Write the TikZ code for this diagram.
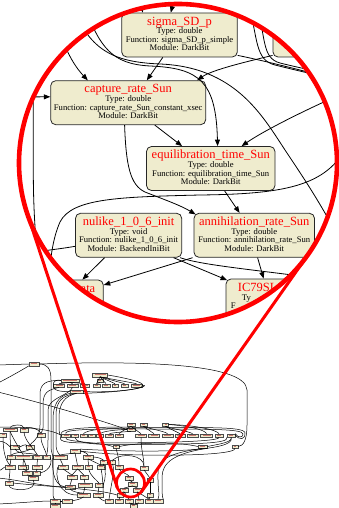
\documentclass[tikz,border=0pt]{standalone}
\usepackage{fontspec}
\setmainfont{Liberation Serif}
\usetikzlibrary{arrows.meta,calc}
\definecolor{gbeige}{RGB}{239,236,206}
\definecolor{minired}{RGB}{205,120,110}
\tikzset{
  gvb/.style={draw=black!85, line width=0.8pt, fill=gbeige, rounded corners=5pt, minimum height=44pt, inner sep=0pt},
  hdr/.style={text=red, font=\fontsize{12.5}{13}\selectfont, inner sep=0pt, anchor=base},
  bdy/.style={text=black, font=\fontsize{8.6}{9}\selectfont, inner sep=0pt, anchor=base},
  edg/.style={line width=0.8pt, black},
  arr/.style={edg, -{Triangle[length=6.5pt,width=5pt]}},
  mini/.style={draw=black!70, line width=0.35pt, fill=gbeige, minimum height=3.4pt, inner sep=0pt,
    path picture={\fill[minired] ([xshift=2pt,yshift=-0.9pt]path picture bounding box.north west) rectangle ([xshift=-2pt,yshift=-1.3pt]path picture bounding box.north east);}},
  ov/.style={line width=0.5pt, black},
  zoomred/.style={red, line cap=round},
}
\newcommand{\gvbox}[8]{%
  \node[gvb, minimum width=#4pt] (#1) at ({#2+#4/2},{#3+22}) {};
  \node[hdr] (#1h) at ({#2+#4/2},{#3+12.3}) {#5};
  \node[bdy] (#1t) at ({#2+#4/2},{#3+21}) {#6};
  \node[bdy] (#1f) at ({#2+#4/2},{#3+29.5}) {#7};
  \node[bdy] (#1m) at ({#2+#4/2},{#3+38}) {#8};
}
\begin{document}
\begin{tikzpicture}[x=1pt,y=-1pt]
\useasboundingbox (0,0) rectangle (339,508);

% ---------------- overview graph ----------------
\foreach \n/\x/\y/\w in {A/34/364/10,
  c1a/70/380.5/18, c1b/100/375/15, c1c/100/380.5/6,
  r1/59/385.5/11, r2/72.5/385.5/11, r3/85/385.5/9, r4/96.5/385.5/7, r5/106/385.5/8, r6/115/385.5/6, r7/124.5/385.5/7, r8/136.5/385.5/11,
  c1d/76.5/391.5/13,
  u1/131/424.5/8, u2/143.5/424.5/7, u3/165.5/424.5/6, u4/131/429.5/8,
  s1/66/435.5/9, s2/75/435.5/7, s3/83.5/435.5/7, s4/91.5/435.5/7, s5/100/435.5/7, s6/109.5/435.5/8, s7/119/435.5/8,
  s8/141/435.5/11, s9/154/435.5/11, s10/167.5/435.5/11, s11/180/435.5/10, s12/192.5/435.5/11, s13/206.5/435.5/12, s14/219/435.5/8, s15/231/435.5/8,
  w1/116/446.5/6, w2/202.5/446.5/9, w3/235/446.5/6,
  L1/10/429.5/14, L2/24/430/8, L3/41/435/8, L4/3/435/7, L5/11/457/8, L6/23.5/457/17, L7/37.5/457/9, L8/46.5/457/7,
  L9/10/467/10, L10/23/467/10, L11/37/467/10, L12/27/473/10, L13/36.5/473/7, L14/33/478/10, L15/9/483/8, L16/15/447/9, L17/30/447/8,
  M1/75/451/10, M2/60/457/14, M3/88/457/10, M4/63/467/10, M5/77.5/467/11, M6/88.5/467/7, M7/101/467/8, M8/72/477/10,
  M9/84/477/8, M10/70/487/10, M11/85/485/14, M12/99/485/8, M13/83.5/495/13, M14/98/495/10, M15/103.5/462/7, M16/112.5/462/5,
  N1/119/467/8, N2/144/468/8, N3/150/480/6, N4/129/478/8, N5/132.5/484/9, N6/124/490/8, N7/137.5/490/9, N8/150/495/6, N9/120/495/6,
  B1/109/501/8, B2/119/501/8, B3/129/501/8, B4/139/501/8, B5/149/501/8, B6/158/501/10, B7/133.5/506/7,
  D1/55/501/10, D2/67/501/10, D3/55/506/10}
  \node[mini, minimum width=\w pt] (o\n) at (\x,\y) {};

\coordinate (e0) at (-2,365);
\coordinate (e1) at (-2,383);
\coordinate (e2) at (-2,392);
\coordinate (e3) at (-2,427);
\coordinate (e4) at (-2,441);
\coordinate (e5) at (-2,471);
\coordinate (e6) at (-2,478);
\coordinate (e7) at (-2,504);

\draw[ov] (e0) -- (oA.west);
\draw[ov] (oA.east) .. controls (130,361) and (246,362) .. (247,390) -- (247,425) .. controls (247,441) and (243,446) .. (ow3.east);
\draw[ov] (ow3.south) .. controls (236,457) and (120,457) .. (oM1.east);
\draw[ov] (os15.south) .. controls (238,452) and (150,453) .. (oM1.north east);
\draw[ov] (oA.south west) .. controls (22,370) and (8,378) .. (e1);
\draw[ov] (oA.east) .. controls (47,364) and (51,368) .. (51,380) -- (51,447) .. controls (51,452) and (53,455) .. (oM2.west);
\draw[ov] (e2) .. controls (50,405) and (100,420) .. (ou4.west);
\draw[ov] (e3) .. controls (20,427) and (50,428) .. (os1.west);
% cluster 1
\foreach \t in {r1,r2,r3} \draw[ov] (oc1a.south) -- (o\t.north);
\foreach \t in {r4,r5,r6,r7,r8} \draw[ov] (oc1b.south) -- (o\t.north);
\draw[ov] (oc1c.south) -- (or4.north);
\draw[ov] (or1.west) .. controls (52,390) and (60,392) .. (oc1d.west);
\draw[ov] (or8.east) .. controls (146,389) and (110,393) .. (oc1d.east);
\draw[ov] (or1.west) .. controls (52,381) and (58,379) .. (oc1a.west);
\draw[ov] (or8.east) .. controls (146,382) and (120,377) .. (oc1b.east);
\draw[ov] (or8.east) .. controls (148,384) and (148,391) .. (oc1d.south east);
\draw[ov] (or1.south) .. controls (48,390) and (43,392) .. (43,405) -- (43,428) .. controls (43,431) and (41,432) .. (oL3.north);
\draw[ov] (oc1a.west) .. controls (45,380) and (40,384) .. (40,395) -- (40,425) .. controls (40,440) and (30,443) .. (oL17.north);
\draw[ov] (oc1d.south) .. controls (62,395) and (56,402) .. (56,415) -- (56,445) .. controls (56,450) and (58,453) .. (oM2.north);
\draw[ov] (oc1d.south) .. controls (65,396) and (59,403) .. (59,418) -- (59,430) .. controls (59,433) and (60,435) .. (os1.west);
\draw[ov] (or2.south) .. controls (70,395) and (48,398) .. (48,410) -- (48,440) .. controls (48,450) and (47,454) .. (oL8.north);
\draw[ov] (oc1d.south west) .. controls (58,396) and (53,405) .. (53,420) -- (53,495) .. controls (53,498) and (54,499) .. (oD1.north);
% ring
\draw[ov] (os1.north west) .. controls (60,426) and (120,427) .. (150,427.5) .. controls (200,428) and (245,426) .. (245,433) .. controls (245,440) and (240,440) .. (os15.east);
\draw[ov] (os1.north) .. controls (62,428) and (120,429) .. (150,429) .. controls (210,429) and (243,429) .. (243,434) .. controls (243,438) and (238,438) .. (os15.north east);
\draw[ov] (os1.south) .. controls (62,442) and (100,442) .. (ow1.west);
\draw[ov] (ow1.east) .. controls (140,442) and (180,442) .. (ow2.west);
\draw[ov] (os15.south) .. controls (233,442) and (220,444) .. (ow2.east);
\draw[ov] (os2.south) .. controls (75,445) and (110,445) .. (140,444.5) .. controls (190,444) and (230,444) .. (os15.south west);
\draw[ov] (os1.west) .. controls (58,441) and (62,443) .. (90,443) .. controls (150,443) and (220,442) .. (os14.south);
\draw[ov] (ou1.south) .. controls (128,428) and (120,432) .. (os7.north);
\draw[ov] (ou1.south) -- (os8.north);
\draw[ov] (ou2.south) -- (os9.north);
\draw[ov] (ou2.south) .. controls (150,429) and (164,431) .. (os10.north);
\draw[ov] (ou3.south) -- (os11.north);
\draw[ov] (ou3.south) .. controls (172,429) and (188,431) .. (os12.north);
\draw[ov] (ou3.east) .. controls (190,426) and (205,430) .. (os13.north);
\draw[ov] (ou3.east) .. controls (195,425) and (217,430) .. (os14.north);
\draw[ov] (ou4.south) .. controls (120,432) and (111,433) .. (os6.north);
\draw[ov] (ou4.west) .. controls (110,430) and (102,432) .. (os5.north);
\draw[ov] (os3.north) .. controls (86,430) and (110,427) .. (ou4.west);
% left cluster
\draw[ov] (oL1.south) .. controls (10,440) and (11,450) .. (oL5.north);
\draw[ov] (oL1.south) .. controls (14,440) and (20,450) .. (oL6.north);
\draw[ov] (oL2.south) .. controls (24,440) and (35,450) .. (oL7.north);
\draw[ov] (oL3.south) .. controls (41,445) and (46,450) .. (oL8.north);
\draw[ov] (oL4.south) .. controls (3,450) and (5,460) .. (oL9.north);
\draw[ov] (oL5.south) -- (oL9.north);
\draw[ov] (oL6.south) -- (oL10.north);
\draw[ov] (oL7.south) -- (oL11.north);
\draw[ov] (oL6.south) .. controls (25,463) and (27,467) .. (oL12.north);
\draw[ov] (oL10.south) -- (oL12.north);
\draw[ov] (oL11.south) -- (oL13.north);
\draw[ov] (oL12.south) -- (oL14.north);
\draw[ov] (oL9.south) .. controls (10,474) and (9,478) .. (oL15.north);
\draw[ov] (oL16.south) .. controls (18,455) and (30,452) .. (oL7.north);
\draw[ov] (oL17.south) .. controls (28,452) and (15,452) .. (oL5.north);
\draw[ov] (oL8.east) .. controls (52,460) and (52,470) .. (oL13.east);
\draw[ov] (oL15.south) .. controls (8,492) and (40,492) .. (oL14.south);
\draw[ov] (e4) .. controls (5,441) and (8,445) .. (oL16.west);
\draw[ov] (e5) .. controls (2,470) and (4,467) .. (oL9.west);
\draw[ov] (oL2.north) .. controls (24,424) and (12,424) .. (oL1.north);
\draw[ov] (oL3.north) .. controls (38,428) and (28,426) .. (oL2.north);
\draw[ov] (oL16.east) .. controls (25,444) and (28,444) .. (oL17.west);
% middle cluster
\draw[ov] (oM1.south) .. controls (70,454) and (62,454) .. (oM2.north);
\draw[ov] (oM1.south) -- (oM5.north);
\draw[ov] (oM1.east) .. controls (85,452) and (88,454) .. (oM3.north);
\draw[ov] (oM2.south) -- (oM4.north);
\draw[ov] (oM3.south) -- (oM6.north);
\draw[ov] (oM3.south) -- (oM7.north);
\draw[ov] (oM4.south) -- (oM8.north);
\draw[ov] (oM5.south) -- (oM8.north);
\draw[ov] (oM5.south) -- (oM9.north);
\draw[ov] (oM8.south) -- (oM10.north);
\draw[ov] (oM9.south) -- (oM11.north);
\draw[ov] (oM6.south) .. controls (90,476) and (97,480) .. (oM12.north);
\draw[ov] (oM10.south) .. controls (72,492) and (80,493) .. (oM13.north);
\draw[ov] (oM11.south) -- (oM13.north);
\draw[ov] (oM12.south) -- (oM14.north);
\draw[ov] (oM7.south) .. controls (103,478) and (103,488) .. (oM14.north east);
\draw[ov] (oM2.west) .. controls (52,465) and (52,485) .. (oM10.west);
\draw[ov] (oM4.west) .. controls (55,475) and (58,495) .. (oM13.west);
\draw[ov] (oM15.south) .. controls (106,470) and (106,478) .. (oM12.east);
\draw[ov] (oM3.east) .. controls (98,457) and (102,459) .. (oM15.north);
\draw[ov] (oM15.east) -- (oM16.west);
% near small circle
\draw[ov] (ow1.south) .. controls (118,455) and (119,460) .. (oN1.north);
\draw[ov] (oN1.south) .. controls (120,472) and (128,474) .. (oN4.north);
\draw[ov] (oN4.south) -- (oN5.north);
\draw[ov] (oN5.south) -- (oN6.north);
\draw[ov] (oN5.south) -- (oN7.north);
\draw[ov] (oN6.south) -- (oN9.north);
\draw[ov] (oN7.south) -- (oB4.north);
\draw[ov] (oN9.south) -- (oB2.north);
\draw[ov] (oN6.south) -- (oB3.north);
\draw[ov] (oN8.south) -- (oB5.north);
\draw[ov] (oN3.south) -- (oN8.north);
\draw[ov] (oN2.south) -- (oN3.north);
\draw[ov] (oN7.south) -- (oB5.north);
\draw[ov] (oB3.south) -- (oB7.north);
\draw[ov] (oB4.south) -- (oB7.north);
\draw[ov] (ow2.south) .. controls (155,455) and (158,465) .. (158,480) .. controls (158,490) and (160,495) .. (oB6.north);
\draw[ov] (ow2.south east) .. controls (162,455) and (162,470) .. (162,480) .. controls (162,492) and (162,496) .. (oB6.north east);
\draw[ov] (oM16.south) .. controls (115,470) and (112,480) .. (oB1.north);
\draw[ov] (oM14.south) .. controls (100,499) and (104,501) .. (oB1.west);
\draw[ov] (oN2.north) .. controls (144,455) and (122,452) .. (oM16.north);
\draw[ov] (os8.south) .. controls (141,450) and (144,458) .. (oN2.north);
\draw[ov] (oL15.east) .. controls (40,486) and (100,489) .. (oN9.west);
% bottom left
\draw[ov] (e7) .. controls (20,503) and (40,501) .. (oD1.west);
\draw[ov] (oD1.south) -- (oD3.north);
\draw[ov] (oD2.west) -- (oD1.east);
\draw[ov] (oM13.south) .. controls (80,500) and (74,500) .. (oD2.east);
\draw[ov] (e6) .. controls (20,480) and (40,486) .. (oM10.west);

% ---------------- magnified inset ----------------
\begin{scope}
\clip (178,163) circle[radius=159];
\gvbox{sig}{121.7}{13}{115.6}{sigma\_SD\_p}{Type: double}{Function: sigma\_SD\_p\_simple}{Module: DarkBit}
\node[gvb, minimum width=120pt] (rtb) at (333,35) {};
\gvbox{cap}{50.7}{80.7}{155}{capture\_rate\_Sun}{Type: double}{Function: capture\_rate\_Sun\_constant\_xsec}{Module: DarkBit}
\gvbox{equ}{146.5}{146.5}{128.5}{equilibration\_time\_Sun}{Type: double}{Function: equilibration\_time\_Sun}{Module: DarkBit}
\gvbox{nul}{75.5}{213.3}{106.2}{nulike\_1\_0\_6\_init}{Type: void}{Function: nulike\_1\_0\_6\_init}{Module: BackendIniBit}
\gvbox{ann}{194}{213.3}{120.5}{annihilation\_rate\_Sun}{Type: double}{Function: annihilation\_rate\_Sun}{Module: DarkBit}
\node[gvb, minimum width=93.3pt] (wld) at (56.65,302) {};
\node[hdr, anchor=base west] (wldh) at (80.5,292.3) {ata};
\node[gvb, minimum width=92pt] (sld) at (272,301) {};
\node[hdr, anchor=base west] (sldh) at (237.7,291.3) {IC79SL};
\node[bdy, anchor=base west] (sldt) at (241.7,300) {Ty};
\node[bdy, anchor=base west] (sldf) at (230.7,308.5) {F};

\coordinate (x1) at (138,-8);
\coordinate (x2) at (176,-8);
\coordinate (x4) at (58,25);
\coordinate (x5) at (10,97);
\coordinate (x5b) at (33.3,60);
\coordinate (x5c) at (39,280);
\coordinate (x8) at (84,5);
\coordinate (x10) at (360,85);
\coordinate (x11a) at (248,0);
\coordinate (x11b) at (350,82);
\coordinate (x11c) at (256,0);
\coordinate (x11d) at (350,78);
\coordinate (x12) at (355,88);
\coordinate (x13a) at (70,0);
\coordinate (x13b) at (345,250);
\coordinate (x14a) at (350,140);
\coordinate (x14b) at (49,275);
\coordinate (x15) at (15,255);
\coordinate (x20) at (345,282);

\draw[arr] (x1) -- ($(sig.north west)+(21.5,0)$);
\draw[arr] (x2) -- ($(sig.north west)+(49.5,0)$);
\draw[arr] ($(sig.south west)+(41.5,0)$) -- ($(cap.north west)+(96.5,0)$);
\draw[arr] (x4) .. controls (66,55) and (78,70) .. ($(cap.north west)+(37.5,0)$);
\draw[arr] (x5) -- ($(cap.north west)+(0,16.5)$);
\draw[edg] (x5b) -- (33.3,170) .. controls (33.3,215) and (36,240) .. (x5c);
\draw[arr] ($(cap.south west)+(104.5,0)$) -- ($(equ.north west)+(36,0)$);
\draw[arr] ($(cap.south west)+(74.3,0)$) .. controls (126,165) and (130,185) .. (145,192) .. controls (160,198) and (180,205) .. ($(ann.north west)+(2,1.5)$);
\draw[arr] (x8) .. controls (100,48) and (112,64) .. (150,66) .. controls (200,68) and (216,82) .. ($(equ.north west)+(71.5,0)$);
\draw[arr] ($(rtb.south west)+(0,-2)$) .. controls (245,62) and (212,70) .. ($(cap.north east)+(-9,0)$);
\draw[edg] ($(sig.south east)+(0,-2)$) .. controls (270,62) and (295,69) .. (x10);
\draw[edg] (x11a) .. controls (258,40) and (255,60) .. (275,65) .. controls (295,70) and (320,76) .. (x11b);
\draw[edg] (x11c) .. controls (266,40) and (262,58) .. (280,63) .. controls (300,68) and (320,72) .. (x11d);
\draw[arr] (x12) .. controls (300,112) and (262,132) .. ($(equ.north west)+(95.5,0)$);
\draw[edg] (x13a) .. controls (88,50) and (112,62) .. (160,64) .. controls (235,67) and (262,115) .. (285,150) .. controls (305,180) and (322,205) .. (x13b);
\draw[edg] (x14a) .. controls (330,185) and (290,194) .. (200,195) .. controls (120,197) and (72,198) .. (60,222) .. controls (53,238) and (51,255) .. (x14b);
\draw[edg] ($(nul.west)+(0,11)$) .. controls (60,249) and (40,251) .. (x15);
\draw[arr] ($(nul.south west)+(29.5,0)$) -- ($(wld.north east)+(-21.3,0)$);
\draw[arr] ($(ann.south west)+(-1,0)$) -- ($(wld.east)+(0,-17)$);
\draw[arr] ($(nul.south east)+(-8.5,0)$) -- ($(sld.north west)+(1.5,1.5)$);
\draw[arr] ($(ann.south west)+(64,0)$) -- ($(sld.north west)+(38,0)$);
\draw[edg] ($(nul.south east)+(-2,0)$) .. controls (205,266) and (260,270) .. (x20);
\draw[arr] ($(equ.south west)+(78.5,0)$) -- ($(ann.north west)+(46,0)$);
\end{scope}

% ---------------- red zoom marks ----------------
\coordinate (bigc) at (178,163);
\coordinate (smallc) at (130.5,483);
\coordinate (tl1) at (27,212.7);
\coordinate (tl2) at (117.2,487.4);
\coordinate (tr1) at (308.2,254.5);
\coordinate (tr2) at (141.9,491.1);
\draw[zoomred, line width=3pt] (tl1) -- (tl2);
\draw[zoomred, line width=3pt] (tr1) -- (tr2);
\draw[zoomred, line width=2.7pt] (smallc) circle[radius=14];
\draw[zoomred, line width=4.6pt] (bigc) circle[radius=159];
\end{tikzpicture}
\end{document}
